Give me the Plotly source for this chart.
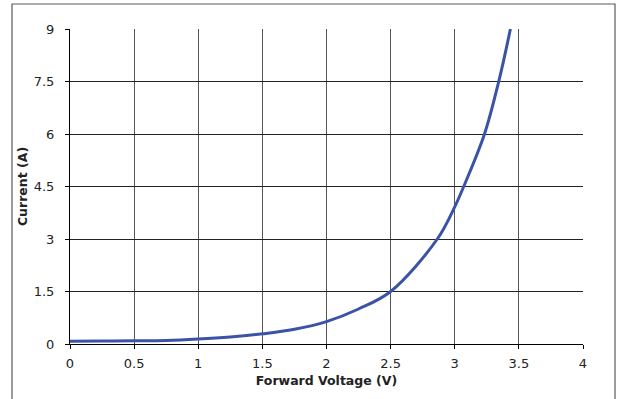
import plotly.graph_objects as go

# Forward voltage (V) and diode current (A)
voltage = [0.0, 0.25, 0.5, 0.75, 1.0, 1.25, 1.5, 1.75, 2.0, 2.25, 2.5, 2.864, 3.0, 3.07, 3.232, 3.343, 3.434]
current = [0.08, 0.085, 0.09, 0.10, 0.14, 0.20, 0.29, 0.42, 0.64, 1.0, 1.5, 3.0, 3.92, 4.5, 6.0, 7.5, 9.0]

x_ticks = [0, 0.5, 1, 1.5, 2, 2.5, 3, 3.5, 4]
y_ticks = [0, 1.5, 3, 4.5, 6, 7.5, 9]

font_family = "DejaVu Sans"

fig = go.Figure()
fig.add_trace(go.Scatter(
    x=voltage, y=current, mode="lines",
    line=dict(color="#3A53A6", width=3, shape="spline", smoothing=1.0),
    showlegend=False, hoverinfo="skip",
))

fig.update_layout(
    width=621, height=399,
    margin=dict(l=70, r=38, t=29, b=55),
    paper_bgcolor="white", plot_bgcolor="white",
    font=dict(family=font_family, size=12, color="#222222"),
    xaxis=dict(
        range=[0, 4], tickvals=x_ticks, ticktext=[f"{v:g}" for v in x_ticks],
        tickfont=dict(size=13),
        showgrid=True, gridcolor="#555555", gridwidth=1,
        showline=True, linecolor="black", linewidth=1,
        ticks="outside", ticklen=4, tickcolor="black",
        ticklabelstandoff=3,
        zeroline=False, fixedrange=True,
        title=dict(text="<b>Forward Voltage (V)</b>", font=dict(size=12.5), standoff=6),
    ),
    yaxis=dict(
        range=[0, 9], tickvals=y_ticks, ticktext=[f"{v:g}" for v in y_ticks],
        tickfont=dict(size=13),
        showgrid=True, gridcolor="#222222", gridwidth=1,
        showline=True, linecolor="black", linewidth=1,
        ticks="outside", ticklen=4, tickcolor="black",
        ticklabelstandoff=8,
        zeroline=False, fixedrange=True,
        title=dict(text="<b>Current (A)</b>", font=dict(size=12.5), standoff=3),
    ),
    shapes=[
        # outer chart frame
        dict(type="rect", xref="paper", yref="paper",
             x0=-0.1131, x1=1.0624, y0=-0.2, y1=1.0794,
             line=dict(color="#5a5a5a", width=1.2), layer="below"),
    ],
)

fig.write_html("out.html")
